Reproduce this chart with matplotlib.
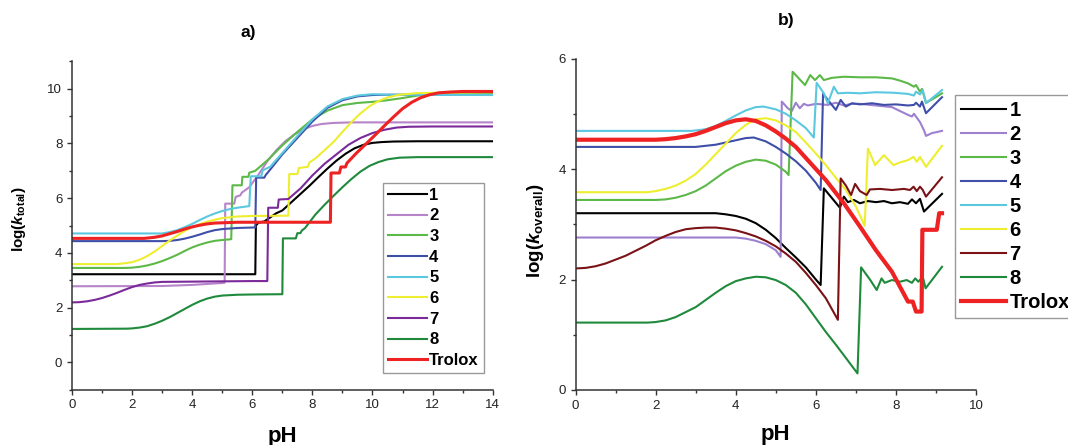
import matplotlib
matplotlib.use("Agg")
import matplotlib.pyplot as plt

plt.rcParams['font.family'] = ['Liberation Sans', 'DejaVu Sans']
plt.rcParams['mathtext.fontset'] = 'custom'
plt.rcParams['mathtext.rm'] = 'Liberation Sans:bold'
plt.rcParams['mathtext.it'] = 'Liberation Sans:bold:italic'
plt.rcParams['mathtext.bf'] = 'Liberation Sans:bold'

# ---------------- panel a) log(k_total) vs pH ----------------
a1_x = [0, 6.1, 6.12, 6.2, 6.4, 6.6, 6.8, 7.0, 7.3, 7.6, 7.9, 8.2, 8.5, 8.8, 9.1, 9.4, 9.7, 10.0, 10.3, 10.7, 11.5, 14]
a1_y = [3.22, 3.22, 5.0, 5.1, 5.15, 5.3, 5.45, 5.55, 5.85, 6.15, 6.45, 6.77, 7.08, 7.37, 7.62, 7.82, 7.95, 8.02,
        8.05, 8.07, 8.08, 8.08]

a2_x = [0, 3.0, 4.0, 5.0, 5.08, 5.1, 5.4, 5.45, 5.6, 5.65, 5.9, 6.2, 6.5, 6.8, 7.1, 7.4, 7.7, 8.0, 8.3, 8.7, 9.3, 14]
a2_y = [2.78, 2.79, 2.83, 2.9, 2.91, 5.8, 5.8, 6.05, 6.1, 6.2, 6.4, 6.85, 7.35, 7.75, 8.08, 8.33, 8.52, 8.64,
        8.71, 8.75, 8.77, 8.77]

a3_x = [0, 1.8, 2.0, 2.25, 2.5, 2.75, 3.0, 3.25, 3.5, 3.75, 4.0, 4.25, 4.5, 4.75, 5.0, 5.3, 5.34, 5.65, 5.67,
        5.87, 5.9, 6.1, 6.5, 7.0, 7.5, 8.0, 8.5, 9.0, 9.5, 10.0, 10.5, 11.0, 11.5, 12.0, 12.5, 14]
a3_y = [3.45, 3.45, 3.46, 3.49, 3.54, 3.61, 3.7, 3.81, 3.93, 4.07, 4.2, 4.3, 4.38, 4.44, 4.47, 4.5, 6.47, 6.47,
        6.78, 6.78, 6.93, 7.0, 7.38, 7.93, 8.42, 8.88, 9.2, 9.4, 9.48, 9.52, 9.58, 9.66, 9.75, 9.8, 9.82, 9.82]

a4_x = [0, 3.0, 3.25, 3.5, 3.75, 4.0, 4.25, 4.5, 4.75, 5.0, 5.5, 6.1, 6.13, 6.4, 6.45, 6.6, 7.0, 7.5, 8.0, 8.5,
        9.0, 9.5, 10.0, 10.5, 14]
a4_y = [4.43, 4.43, 4.44, 4.47, 4.52, 4.59, 4.67, 4.76, 4.83, 4.87, 4.91, 4.93, 6.75, 6.75, 6.85, 7.05, 7.6, 8.2,
        8.8, 9.3, 9.58, 9.72, 9.77, 9.78, 9.78]

a5_x = [0, 3.0, 3.25, 3.5, 3.75, 4.0, 4.25, 4.5, 4.75, 5.0, 5.25, 5.5, 5.9, 5.95, 6.3, 6.35, 6.6, 7.0, 7.5, 8.0,
        8.5, 9.0, 9.5, 10.0, 10.5, 14]
a5_y = [4.71, 4.71, 4.76, 4.83, 4.94, 5.06, 5.2, 5.33, 5.44, 5.53, 5.6, 5.65, 5.71, 6.8, 6.8, 7.02, 7.15, 7.65,
        8.27, 8.88, 9.35, 9.62, 9.75, 9.8, 9.78, 9.77]

a6_x = [0, 1.5, 1.75, 2.0, 2.25, 2.5, 2.75, 3.0, 3.25, 3.5, 3.75, 4.0, 4.25, 4.5, 4.75, 5.0, 5.5, 6.0, 7.2, 7.23,
        7.5, 7.55, 7.85, 7.9, 8.1, 8.4, 8.7, 9.0, 9.3, 9.6, 9.9, 10.2, 10.5, 10.9, 11.5, 12.0, 14]
a6_y = [3.59, 3.59, 3.62, 3.66, 3.75, 3.88, 4.05, 4.25, 4.45, 4.63, 4.8, 4.94, 5.05, 5.14, 5.21, 5.27, 5.33, 5.35,
        5.36, 6.88, 6.88, 7.1, 7.15, 7.3, 7.45, 7.75, 8.05, 8.42, 8.78, 9.1, 9.36, 9.55, 9.68, 9.78, 9.84, 9.85, 9.87]

a7_x = [0, 0.25, 0.5, 0.75, 1.0, 1.25, 1.5, 1.75, 2.0, 2.25, 2.5, 2.75, 3.0, 4.0, 5.0, 6.0, 6.5, 6.53, 6.85,
        6.88, 7.2, 7.6, 8.0, 8.4, 8.8, 9.2, 9.6, 10.0, 10.4, 10.8, 11.2, 12.0, 14]
a7_y = [2.19, 2.2, 2.23, 2.28, 2.35, 2.44, 2.54, 2.65, 2.75, 2.83, 2.88, 2.92, 2.94, 2.95, 2.96, 2.97, 2.97, 5.65,
        5.65, 5.95, 5.97, 6.35, 6.83, 7.25, 7.6, 7.95, 8.2, 8.38, 8.5, 8.58, 8.61, 8.62, 8.62]

a8_x = [0, 1.8, 2.0, 2.25, 2.5, 2.75, 3.0, 3.25, 3.5, 3.75, 4.0, 4.25, 4.5, 4.75, 5.0, 5.5, 6.0, 7.0, 7.02, 7.45,
        7.5, 7.6, 7.65, 7.75, 8.1, 8.4, 8.7, 9.0, 9.3, 9.6, 9.9, 10.2, 10.5, 10.9, 11.5, 14]
a8_y = [1.22, 1.23, 1.24, 1.27, 1.32, 1.41, 1.52, 1.65, 1.8, 1.95, 2.1, 2.23, 2.33, 2.4, 2.44, 2.47, 2.48, 2.49,
        4.53, 4.53, 4.72, 4.72, 4.82, 4.9, 5.4, 5.75, 6.08, 6.4, 6.7, 6.97, 7.18, 7.32, 7.42, 7.48, 7.5, 7.5]

a_tr_x = [0, 2.4, 2.75, 3.0, 3.25, 3.5, 3.75, 4.0, 4.25, 4.5, 4.75, 5.0, 5.5, 8.6, 8.62, 8.9, 8.95, 9.1, 9.15,
          9.45, 9.8, 10.1, 10.4, 10.7, 11.0, 11.3, 11.6, 11.9, 12.2, 12.6, 13.0, 14]
a_tr_y = [4.53, 4.53, 4.57, 4.62, 4.7, 4.78, 4.87, 4.95, 5.01, 5.06, 5.09, 5.1, 5.12, 5.12, 6.92, 6.92, 7.14, 7.14,
          7.28, 7.63, 8.0, 8.32, 8.65, 8.97, 9.27, 9.5, 9.67, 9.78, 9.85, 9.88, 9.9, 9.9]

# ---------------- panel b) log(k_overall) vs pH ----------------
b1_x = [0, 3.5, 3.75, 4.0, 4.25, 4.5, 4.75, 5.0, 5.25, 5.5, 5.75, 6.0, 6.12, 6.2, 6.6, 6.7, 6.8, 6.95, 7.1, 7.3,
        7.5, 7.7, 7.9, 8.1, 8.3, 8.4, 8.5, 8.6, 8.7, 9.15]
b1_y = [3.2, 3.2, 3.18, 3.15, 3.1, 3.02, 2.9, 2.75, 2.57, 2.4, 2.22, 2.0, 1.9, 3.65, 3.3, 3.5, 3.4, 3.44, 3.38,
        3.42, 3.4, 3.42, 3.38, 3.4, 3.37, 3.45, 3.38, 3.46, 3.23, 3.55]

b2_x = [0, 4.0, 4.25, 4.5, 4.75, 5.0, 5.12, 5.15, 5.3, 5.4, 5.5, 5.6, 5.7, 5.8, 6.0, 6.3, 6.5, 6.7, 6.9, 7.1,
        7.5, 7.9, 8.1, 8.3, 8.4, 8.45, 8.55, 8.6, 8.7, 8.75, 8.9, 9.15]
b2_y = [2.76, 2.76, 2.74, 2.7, 2.64, 2.53, 2.41, 5.22, 5.1, 5.05, 5.2, 5.1, 5.18, 5.15, 5.18, 5.16, 5.2, 5.15,
        5.18, 5.18, 5.15, 5.12, 5.05, 4.98, 4.95, 5.0, 4.9, 4.85, 4.7, 4.6, 4.65, 4.69]

b3_x = [0, 2.0, 2.25, 2.5, 2.75, 3.0, 3.25, 3.5, 3.75, 4.0, 4.25, 4.5, 4.75, 5.0, 5.25, 5.32, 5.42, 5.6, 5.73,
        5.86, 5.98, 6.1, 6.2, 6.4, 6.7, 7.1, 7.5, 7.9, 8.1, 8.3, 8.45, 8.5, 8.6, 8.65, 8.75, 8.95, 9.15]
b3_y = [3.44, 3.44, 3.45, 3.48, 3.53, 3.6, 3.7, 3.83, 3.96, 4.06, 4.13, 4.17, 4.15, 4.08, 3.95, 3.89, 5.76, 5.62,
        5.52, 5.7, 5.61, 5.7, 5.61, 5.65, 5.67, 5.66, 5.66, 5.64, 5.6, 5.55, 5.49, 5.52, 5.4, 5.45, 5.2, 5.28, 5.37]

b4_x = [0, 3.0, 3.25, 3.5, 3.75, 4.0, 4.25, 4.45, 4.75, 5.0, 5.25, 5.5, 5.75, 6.0, 6.12, 6.18, 6.3, 6.5, 6.62,
        6.75, 6.9, 7.1, 7.4, 7.7, 8.0, 8.3, 8.45, 8.5, 8.6, 8.65, 8.75, 9.15]
b4_y = [4.4, 4.4, 4.42, 4.44, 4.48, 4.52, 4.56, 4.57, 4.5, 4.4, 4.28, 4.14, 3.97, 3.75, 3.62, 5.36, 5.25, 5.07,
        5.25, 5.13, 5.19, 5.17, 5.19, 5.16, 5.17, 5.15, 5.16, 5.2, 5.13, 5.22, 5.01, 5.3]

b5_x = [0, 2.9, 3.25, 3.5, 3.75, 4.0, 4.25, 4.5, 4.7, 5.0, 5.25, 5.5, 5.75, 5.95, 6.02, 6.2, 6.3, 6.45, 6.55,
        6.8, 7.1, 7.5, 7.95, 8.3, 8.45, 8.5, 8.6, 8.67, 8.75, 9.15]
b5_y = [4.69, 4.69, 4.72, 4.78, 4.87, 4.97, 5.06, 5.12, 5.13, 5.08, 5.0, 4.88, 4.74, 4.57, 5.56, 5.37, 5.19, 5.49,
        5.37, 5.38, 5.37, 5.39, 5.38, 5.36, 5.33, 5.4, 5.35, 5.43, 5.19, 5.43]

b6_x = [0, 1.8, 2.0, 2.25, 2.5, 2.75, 3.0, 3.25, 3.5, 3.75, 4.0, 4.25, 4.5, 4.75, 5.0, 5.25, 5.5, 5.75, 6.0,
        6.25, 6.5, 6.75, 7.0, 7.22, 7.3, 7.48, 7.7, 7.94, 8.1, 8.3, 8.44, 8.52, 8.6, 8.75, 9.15]
b6_y = [3.58, 3.58, 3.6, 3.64, 3.7, 3.79, 3.91, 4.08, 4.27, 4.46, 4.65, 4.8, 4.9, 4.92, 4.88, 4.79, 4.67, 4.48,
        4.28, 4.07, 3.84, 3.62, 3.32, 2.97, 4.37, 4.07, 4.25, 4.07, 4.12, 4.16, 4.22, 4.13, 4.22, 4.04, 4.42]

b7_x = [0, 0.25, 0.5, 0.75, 1.0, 1.25, 1.5, 1.75, 2.0, 2.25, 2.5, 2.75, 3.0, 3.25, 3.5, 3.75, 4.0, 4.25, 4.5,
        4.75, 5.0, 5.25, 5.5, 5.75, 6.0, 6.25, 6.55, 6.62, 6.75, 6.88, 6.98, 7.1, 7.27, 7.35, 7.6, 7.9, 8.2,
        8.35, 8.44, 8.52, 8.6, 8.67, 8.75, 9.15]
b7_y = [2.2, 2.21, 2.24, 2.29, 2.36, 2.43, 2.52, 2.61, 2.71, 2.79, 2.86, 2.91, 2.93, 2.94, 2.94, 2.92, 2.89, 2.84,
        2.78, 2.7, 2.6, 2.47, 2.32, 2.12, 1.9, 1.66, 1.27, 3.83, 3.7, 3.53, 3.73, 3.6, 3.53, 3.63, 3.64, 3.62,
        3.64, 3.62, 3.68, 3.6, 3.68, 3.62, 3.5, 3.85]

b8_x = [0, 1.8, 2.0, 2.25, 2.5, 2.75, 3.0, 3.25, 3.5, 3.75, 4.0, 4.25, 4.5, 4.75, 5.0, 5.25, 5.5, 5.75, 6.0,
        6.25, 6.5, 6.75, 7.04, 7.13, 7.36, 7.52, 7.64, 7.72, 7.9, 8.1, 8.27, 8.4, 8.48, 8.56, 8.67, 8.74, 9.15]
b8_y = [1.22, 1.22, 1.23, 1.26, 1.32, 1.41, 1.5, 1.63, 1.76, 1.88, 1.97, 2.02, 2.05, 2.04, 1.99, 1.9, 1.76, 1.55,
        1.3, 1.05, 0.82, 0.58, 0.3, 2.22, 1.99, 1.81, 2.02, 1.94, 1.99, 1.96, 1.99, 1.94, 2.02, 1.96, 2.05, 1.84,
        2.23]

b_tr_x = [0, 2.0, 2.25, 2.5, 2.75, 3.0, 3.25, 3.5, 3.75, 4.0, 4.25, 4.5, 4.75, 5.0, 5.25, 5.5, 5.75, 6.0, 6.25,
          6.7, 7.1, 7.5, 7.9, 8.3, 8.42, 8.5, 8.64, 8.66, 9.02, 9.08, 9.15]
b_tr_y = [4.53, 4.53, 4.54, 4.56, 4.59, 4.63, 4.69, 4.76, 4.83, 4.88, 4.9, 4.87, 4.79, 4.68, 4.55, 4.4, 4.2, 4.0,
          3.8, 3.38, 2.96, 2.53, 2.14, 1.6, 1.6, 1.42, 1.42, 2.9, 2.9, 3.2, 3.2]

labels = ['1', '2', '3', '4', '5', '6', '7', '8', 'Trolox']
colors_a = ['#000000', '#b784c9', '#5cb947', '#3f4fa8', '#5bc8e0', '#eeee30', '#7b2a9a', '#1f8a3c', '#ee2222']
colors_b = ['#000000', '#9d80d0', '#5cb947', '#3f4fa8', '#5bc8e0', '#eeee30', '#7a1216', '#1f8a3c', '#ee2222']

series_a = [(a1_x, a1_y), (a2_x, a2_y), (a3_x, a3_y), (a4_x, a4_y), (a5_x, a5_y),
            (a6_x, a6_y), (a7_x, a7_y), (a8_x, a8_y), (a_tr_x, a_tr_y)]
series_b = [(b1_x, b1_y), (b2_x, b2_y), (b3_x, b3_y), (b4_x, b4_y), (b5_x, b5_y),
            (b6_x, b6_y), (b7_x, b7_y), (b8_x, b8_y), (b_tr_x, b_tr_y)]

fig = plt.figure(figsize=(10.68, 4.45), dpi=100)
ax_a = fig.add_axes([0.0674, 0.1243, 0.3939, 0.7378])
ax_b = fig.add_axes([0.5389, 0.1236, 0.3750, 0.7449])


def style_axes(ax):
    for side in ['top', 'right']:
        ax.spines[side].set_visible(False)
    for side in ['left', 'bottom']:
        ax.spines[side].set_color('#333333')
        ax.spines[side].set_linewidth(1.1)
    ax.tick_params(which='major', direction='out', length=3.5, width=1, colors='#333333',
                   labelsize=9.5, labelcolor='#222222')
    ax.tick_params(which='minor', direction='out', length=2, width=1, colors='#333333')


# panel a
for (x, y), c, lab in zip(series_a, colors_a, labels):
    lw = 2.2 if lab == 'Trolox' else 1.5
    ax_a.plot(x, y, color=c, lw=lw, label=lab)
ax_a.set_xlim(0, 14)
ax_a.set_ylim(-1, 11)
ax_a.set_xticks(range(0, 15, 2))
ax_a.set_xticks(range(1, 14, 2), minor=True)
ax_a.set_yticks(range(0, 11, 2))
ax_a.set_yticks([-1, 1, 3, 5, 7, 9, 11], minor=True)
style_axes(ax_a)
ax_a.set_xlabel('pH', fontsize=16, fontweight='bold')
ax_a.xaxis.set_label_coords(0.5, -0.11)
ax_a.set_ylabel(r'log($k_{\mathrm{total}}$)', fontsize=11, fontweight='bold')
ax_a.yaxis.set_label_coords(-0.105, 0.52)
leg_a = ax_a.legend(loc='upper left', bbox_to_anchor=(383.3 / 1068, 1 - 182.7 / 445),
                    bbox_transform=fig.transFigure, prop={'weight': 'bold', 'size': 12},
                    handlelength=2.3, handletextpad=0.15, labelspacing=0.34, borderpad=0.3,
                    borderaxespad=0, fancybox=False, framealpha=1, edgecolor='#999999')
leg_a.get_frame().set_linewidth(1.0)

# panel b
for (x, y), c, lab in zip(series_b, colors_b, labels):
    lw = 3.0 if lab == 'Trolox' else 1.5
    ax_b.plot(x, y, color=c, lw=lw, label=lab)
ax_b.set_xlim(0, 10)
ax_b.set_ylim(0, 6)
ax_b.set_xticks(range(0, 11, 2))
ax_b.set_xticks(range(1, 10, 2), minor=True)
ax_b.set_yticks(range(0, 7, 2))
ax_b.set_yticks([1, 3, 5], minor=True)
style_axes(ax_b)
ax_b.set_xlabel('pH', fontsize=16, fontweight='bold')
ax_b.xaxis.set_label_coords(0.5, -0.103)
ax_b.set_ylabel(r'log($k_{\mathrm{overall}}$)', fontsize=13.5, fontweight='bold')
ax_b.yaxis.set_label_coords(-0.075, 0.48)
leg_b = ax_b.legend(loc='upper left', bbox_to_anchor=(955 / 1068, 1 - 95 / 445),
                    bbox_transform=fig.transFigure, prop={'weight': 'bold', 'size': 14.5},
                    handlelength=2.25, handletextpad=0.15, labelspacing=0.25, borderpad=0.3,
                    borderaxespad=0, fancybox=False, framealpha=1, edgecolor='#999999')
leg_b.get_frame().set_linewidth(1.0)

fig.text(248.6 / 1068, 1 - 33 / 445, 'a)', ha='center', va='center', fontsize=12.5, fontweight='bold')
fig.text(786 / 1068, 1 - 21 / 445, 'b)', ha='center', va='center', fontsize=12.5, fontweight='bold')

fig.savefig('out.png', dpi=100)
